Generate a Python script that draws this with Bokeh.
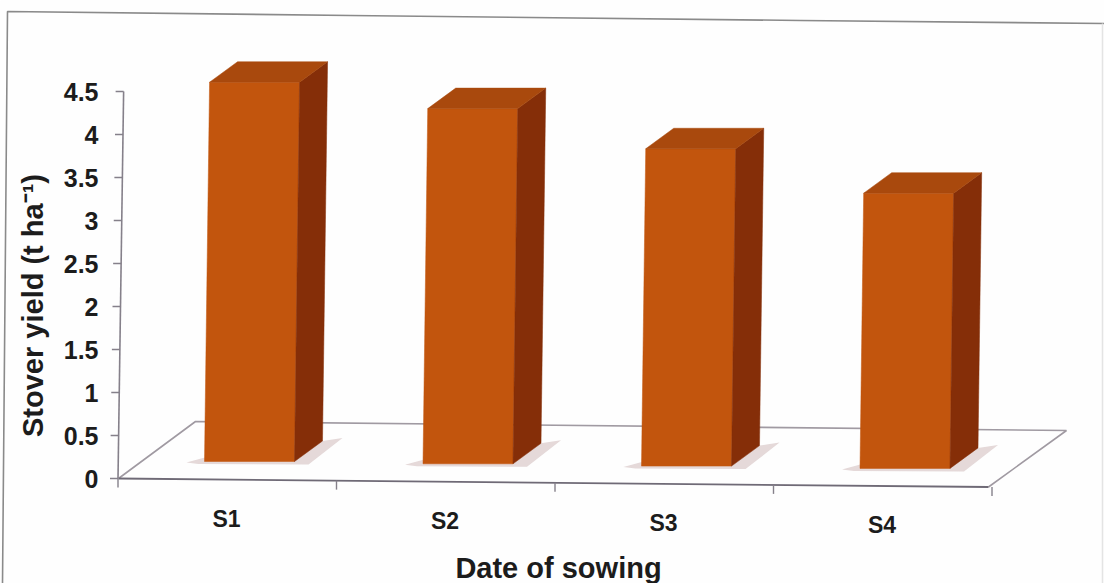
from math import pi
from bokeh.plotting import figure
from bokeh.models import LinearAxis, FixedTicker, Range1d
from bokeh.core.properties import value
from bokeh.embed import file_html
from bokeh.resources import INLINE

categories = ["S1", "S2", "S3", "S4"]
stover_yield = [4.41, 4.13, 3.69, 3.20]
y_ticks = [0, 0.5, 1, 1.5, 2, 2.5, 3, 3.5, 4, 4.5]
y_tick_labels = ["0", "0.5", "1", "1.5", "2", "2.5", "3", "3.5", "4", "4.5"]
x_title = "Date of sowing"
y_title = "Stover yield (t ha\u207b\u00b9)"

W, H = 1104, 583
AXIS_AT = 100
PX_PER_CAT, PX_PER_VAL = 218.5, 86.0
FONT = "Liberation Sans"

def dx(p):
    return p / PX_PER_CAT
def dy(p):
    return p / PX_PER_VAL
def px(v):
    return 1 + (v - 249) / PX_PER_CAT
def py(v):
    return (478 - v) / PX_PER_VAL

p = figure(width=W, height=H, output_backend="svg", toolbar_location=None,
           x_range=Range1d(px(0), px(W)), y_range=Range1d(py(H), py(0)),
           x_axis_type=None, y_axis_type=None, min_border_left=0,
           min_border_right=0, min_border_top=0, min_border_bottom=0,
           background_fill_color="#fefefe", border_fill_color="#fefefe", outline_line_color=None)
p.grid.visible = False

axis = LinearAxis(ticker=FixedTicker(ticks=y_ticks), fixed_location=px(AXIS_AT),
                  major_label_overrides=dict(zip(y_ticks, y_tick_labels)))
axis.axis_line_color = None
axis.major_tick_line_color = None
axis.minor_tick_line_color = None
axis.major_tick_out = 0
axis.major_tick_in = 0
axis.major_label_text_font = FONT
axis.major_label_text_font_style = "bold"
axis.major_label_text_font_size = "25px"
axis.major_label_text_color = "#1c1c1c"
axis.major_label_standoff = 2
p.add_layout(axis, "left")

# scanned page frame
p.line([px(2), px(7), px(350), px(800), px(W)], [py(H), py(11), py(15), py(20), py(23)],
       line_color="#8a8a8a", line_width=1.6)
p.line([px(1102), px(1102)], [py(23), py(H)], line_color="#e4e4e4", line_width=1.5)

# floor
p.line([px(118), px(195), px(1066), px(988)], [py(478), py(421), py(430), py(486.5)], line_color="#a09aa2", line_width=1.6)
p.line([px(118), px(988)], [py(478), py(486.5)], line_color="#6f6a76", line_width=1.8)

# leaning value axis and its ticks
def axis_x(v):
    return px(117.5) + dx(1.25) * v
p.line([axis_x(0), axis_x(y_ticks[-1])], [0, y_ticks[-1]], line_color="#85808a", line_width=1.6)
p.segment([axis_x(v) - dx(8) for v in y_ticks], y_ticks, [axis_x(v) for v in y_ticks], y_ticks,
          line_color="#85808a", line_width=1.4)
edges = list(range(0, len(categories) + 1))
ex = [px(117.5) + e for e in edges]
ey = [py(478) - e * dy(2.13) for e in edges]
p.segment(ex, ey, ex, [y - dy(9) for y in ey], line_color="#85808a", line_width=1.4)

# 3D bars
BW, DEPTH_X, DEPTH_Y, LEAN = dx(90), dx(28), dy(20.5), dx(1.15)
BASE0, TILT = py(461), dy(2.3)
xc = [i + 1 for i in range(len(categories))]
front_x, front_y, side_x, side_y, top_x, top_y, sh_x, sh_y = [], [], [], [], [], [], [], []
for c, v in zip(xc, stover_yield):
    b = BASE0 - (c - 1) * TILT
    l, r = c - BW / 2, c + BW / 2
    t = b + v
    ln = LEAN * v
    front_x.append([l, r, r + ln, l + ln]); front_y.append([b, b, t, t])
    side_x.append([r, r + DEPTH_X, r + DEPTH_X + ln, r + ln]); side_y.append([b, b + DEPTH_Y, t + DEPTH_Y, t])
    top_x.append([l + ln, r + ln, r + ln + DEPTH_X, l + ln + DEPTH_X]); top_y.append([t, t, t + DEPTH_Y, t + DEPTH_Y])
    sh_x.append([l - dx(18), l + dx(4), r + DEPTH_X, r + DEPTH_X + dx(20), r + dx(14), l - dx(6)])
    sh_y.append([b - dy(1), b + dy(5), b + DEPTH_Y, b + DEPTH_Y + dy(3), b - dy(3), b - dy(2.5)])

p.patches(sh_x, sh_y, fill_color="#cbb4b4", fill_alpha=0.5, line_color=None)
p.patches(front_x, front_y, fill_color="#c2550d", line_color="#c2550d", line_width=0.5)
p.patches(side_x, side_y, fill_color="#852e08", line_color="#852e08", line_width=0.5)
p.patches(top_x, top_y, fill_color="#a9490d", line_color="#a9490d", line_width=0.5)

title_style = dict(text_font=value(FONT), text_font_style="bold", text_color="#1c1c1c",
                   text_align="center", text_baseline="middle")
p.text([c + dx(-23) for c in xc], [py(518) - (c - 1) * dy(2.3) for c in xc], text=categories,
       text_font_size="23px", **title_style)
p.text([px(558)], [py(567)], text=[x_title], text_font_size="29px", **title_style)
p.text([px(32)], [py(305)], text=[y_title], angle=pi / 2, text_font_size="29px", **title_style)

open("out.html", "w").write(file_html(p, INLINE))
